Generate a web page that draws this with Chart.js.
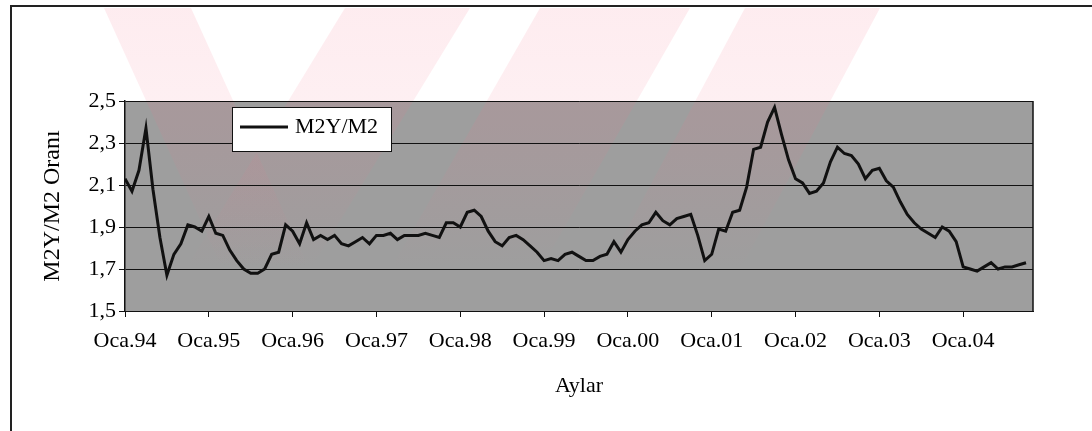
<!DOCTYPE html>
<html><head><meta charset="utf-8">
<script src="https://cdn.jsdelivr.net/npm/chart.js@4.4.0/dist/chart.umd.min.js"></script>
<style>html,body{margin:0;padding:0;background:#fff;overflow:hidden}#wrap{width:1092px;height:431px;position:relative}canvas{display:block}</style>
</head><body><div id="wrap"><canvas id="c" width="1092" height="431"></canvas></div>
<script>
// Monthly M2Y/M2 ratio, Ocak 1994 - Ekim 2004
const v1994 = [2.13, 2.07, 2.17, 2.37, 2.08, 1.85, 1.67, 1.77, 1.82, 1.91, 1.90, 1.88];
const v1995 = [1.95, 1.87, 1.86, 1.79, 1.74, 1.70, 1.68, 1.68, 1.70, 1.77, 1.78, 1.91];
const v1996 = [1.88, 1.82, 1.92, 1.84, 1.86, 1.84, 1.86, 1.82, 1.81, 1.83, 1.85, 1.82];
const v1997 = [1.86, 1.86, 1.87, 1.84, 1.86, 1.86, 1.86, 1.87, 1.86, 1.85, 1.92, 1.92];
const v1998 = [1.90, 1.97, 1.98, 1.95, 1.88, 1.83, 1.81, 1.85, 1.86, 1.84, 1.81, 1.78];
const v1999 = [1.74, 1.75, 1.74, 1.77, 1.78, 1.76, 1.74, 1.74, 1.76, 1.77, 1.83, 1.78];
const v2000 = [1.84, 1.88, 1.91, 1.92, 1.97, 1.93, 1.91, 1.94, 1.95, 1.96, 1.86, 1.74];
const v2001 = [1.77, 1.89, 1.88, 1.97, 1.98, 2.09, 2.27, 2.28, 2.40, 2.47, 2.34, 2.22];
const v2002 = [2.13, 2.11, 2.06, 2.07, 2.11, 2.21, 2.28, 2.25, 2.24, 2.20, 2.13, 2.17];
const v2003 = [2.18, 2.12, 2.09, 2.02, 1.96, 1.92, 1.89, 1.87, 1.85, 1.90, 1.88, 1.83];
const v2004 = [1.71, 1.70, 1.69, 1.71, 1.73, 1.70, 1.71, 1.71, 1.72, 1.73];
const seriesName = 'M2Y/M2';
const xTickLabels = ['Oca.94','Oca.95','Oca.96','Oca.97','Oca.98','Oca.99','Oca.00','Oca.01','Oca.02','Oca.03','Oca.04'];
const yTickValues = [1.5, 1.7, 1.9, 2.1, 2.3, 2.5];
const xTitle = 'Aylar';
const yTitle = 'M2Y/M2 Oranı';

const values = [].concat(v1994, v1995, v1996, v1997, v1998, v1999, v2000, v2001, v2002, v2003, v2004);
const points = values.map((v, i) => ({x: i, y: v}));

const FONT = "'Liberation Serif','Times New Roman',serif";

const decor = {
  id: 'decor',
  beforeDraw(chart) {
    const {ctx, chartArea: a} = chart;
    ctx.save();
    ctx.fillStyle = '#ffffff';
    ctx.fillRect(0, 0, chart.width, chart.height);
    // plot background
    ctx.fillStyle = '#9e9e9e';
    ctx.fillRect(a.left, a.top, a.right - a.left, a.bottom - a.top);
    // faint watermark bands fading downward
    const g = ctx.createLinearGradient(0, 8, 0, 270);
    g.addColorStop(0, 'rgba(245,110,135,0.13)');
    g.addColorStop(0.45, 'rgba(245,110,135,0.10)');
    g.addColorStop(1, 'rgba(245,110,135,0)');
    ctx.fillStyle = g;
    const bands = [
      [[104,8],[191,8],[310,270],[223,270]],
      [[345,8],[470,8],[310,270],[185,270]],
      [[540,8],[690,8],[540,270],[390,270]],
      [[745,8],[880,8],[740,270],[605,270]]
    ];
    bands.forEach(p => {
      ctx.beginPath();
      ctx.moveTo(p[0][0], p[0][1]);
      for (let k = 1; k < p.length; k++) ctx.lineTo(p[k][0], p[k][1]);
      ctx.closePath();
      ctx.fill();
    });
    // outer frame
    ctx.strokeStyle = '#222';
    ctx.lineWidth = 2;
    ctx.beginPath();
    ctx.moveTo(11, 431);
    ctx.lineTo(11, 6);
    ctx.lineTo(1092, 6);
    ctx.stroke();
    ctx.restore();
  },
  afterDraw(chart) {
    const {ctx, chartArea: a} = chart;
    ctx.save();
    // plot frame right edge
    ctx.strokeStyle = '#111';
    ctx.lineWidth = 1.5;
    ctx.beginPath();
    ctx.moveTo(a.right, a.top);
    ctx.lineTo(a.right, a.bottom);
    ctx.stroke();
    // legend
    const lx = a.left + 107, ly = a.top + 6, lw = 159, lh = 44;
    ctx.fillStyle = '#ffffff';
    ctx.fillRect(lx, ly, lw, lh);
    ctx.strokeStyle = '#111';
    ctx.lineWidth = 1;
    ctx.strokeRect(lx + 0.5, ly + 0.5, lw, lh);
    ctx.strokeStyle = '#111';
    ctx.lineWidth = 3;
    ctx.beginPath();
    ctx.moveTo(lx + 8, ly + 20);
    ctx.lineTo(lx + 56, ly + 20);
    ctx.stroke();
    ctx.fillStyle = '#000';
    ctx.font = '22px ' + FONT;
    ctx.textBaseline = 'middle';
    ctx.textAlign = 'left';
    ctx.fillText(chart.data.datasets[0].label, lx + 63, ly + 20);
    ctx.restore();
  }
};

new Chart(document.getElementById('c'), {
  type: 'line',
  data: {
    datasets: [{
      label: seriesName,
      data: points,
      borderColor: '#111',
      borderWidth: 3,
      pointRadius: 0,
      tension: 0,
      fill: false
    }]
  },
  options: {
    responsive: false,
    animation: false,
    layout: {padding: {top: 101, right: 59, bottom: 0, left: 0}},
    plugins: {legend: {display: false}, tooltip: {enabled: false}},
    scales: {
      x: {
        type: 'linear',
        min: 0,
        max: 130,
        afterBuildTicks: (s) => { s.ticks = xTickLabels.map((_, i) => ({value: i * 12})); },
        afterFit: (s) => { s.height = 120; },
        ticks: {
          autoSkip: false,
          maxRotation: 0,
          padding: 11,
          color: '#000',
          font: {family: FONT, size: 22},
          callback: (v) => xTickLabels[Math.round(v / 12)]
        },
        grid: {drawOnChartArea: false, drawTicks: true, tickLength: 6, color: '#111', lineWidth: 1},
        border: {display: true, color: '#111', width: 1},
        title: {display: true, text: xTitle, color: '#000', font: {family: FONT, size: 22}, padding: {top: 0, bottom: 32}}
      },
      y: {
        min: 1.5,
        max: 2.5,
        afterBuildTicks: (s) => { s.ticks = yTickValues.map(v => ({value: v})); },
        afterFit: (s) => { s.width = 125; },
        ticks: {
          padding: 3,
          color: '#000',
          font: {family: FONT, size: 22},
          callback: (v) => v.toFixed(1).replace('.', ',')
        },
        grid: {color: '#111', lineWidth: 1, tickLength: 6},
        border: {display: true, color: '#111', width: 1.5},
        title: {display: true, text: yTitle, color: '#000', font: {family: FONT, size: 24}, padding: {top: 38, bottom: 0}}
      }
    }
  },
  plugins: [decor]
});
</script>
</body></html>
